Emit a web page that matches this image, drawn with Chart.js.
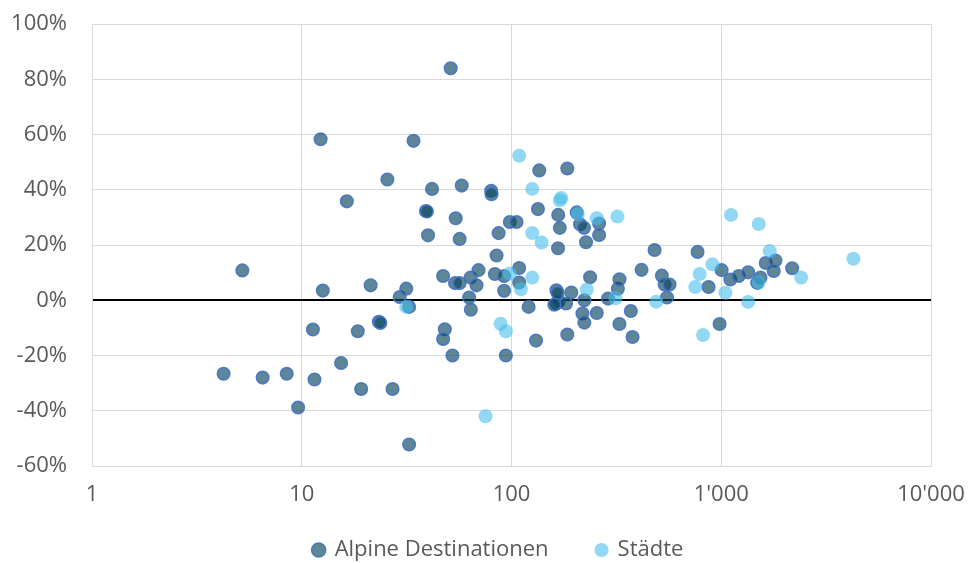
<!DOCTYPE html>
<html>
<head>
<meta charset="utf-8">
<script src="https://cdn.jsdelivr.net/npm/chart.js@4.4.0/dist/chart.umd.min.js"></script>
<style>
  html, body { margin: 0; padding: 0; background: #fff; }
  #wrap { width: 970px; height: 563px; }
</style>
</head>
<body>
<div id="wrap"><canvas id="chart"></canvas></div>
<script>
const seriesNames = ["Alpine Destinationen", "Städte"];
const xTicks = [1, 10, 100, 1000, 10000];

// Alpine Destinationen (x = log scale, y = change in %)
const alpineX = [
	4.24, 5.21, 6.51, 8.48, 9.61, 11.3, 11.5, 12.3, 12.6, 15.4,
	16.4, 18.5, 19.2, 21.3, 23.3, 23.7, 25.6, 27.1, 29.3, 31.5,
	32.5, 34.1, 32.5, 39.1, 39.5, 40.0, 41.8, 47.2, 48.1, 47.2,
	51.3, 52.3, 54.2, 53.8, 56.6, 56.6, 57.9, 62.8, 64.0, 63.8,
	68.1, 69.6, 80.0, 80.3, 83.3, 84.9, 86.8, 92.2, 92.2, 94.0,
	98.2, 105.7, 108.8, 108.8, 120.7, 130.9, 135.6, 133.7, 163.7, 163.7,
	168, 182, 167, 170, 166.7, 184.5, 184.5, 192.8, 204.6, 212.2,
	221.8, 217.8, 222.5, 222.5, 226.7, 237, 255, 261.6, 261.6, 288.8,
	321.5, 327.1, 327, 370.7, 377.6, 416.9, 481, 521, 537, 567,
	551, 771, 870, 982, 1004, 1105, 1211, 1343, 1538, 1483,
	1630, 1813, 1779, 2178, 166, 160
];
const alpineY = [
	-26.6, 10.8, -28.0, -26.6, -38.8, -10.6, -28.7, 58.3, 3.5, -22.7,
	35.8, -11.2, -32.1, 5.4, -7.8, -8.2, 43.7, -32.1, 1.2, 4.2,
	-2.4, 57.7, -52.2, 32.3, 32.1, 23.5, 40.3, 8.8, -10.5, -14.0,
	84, -20, 29.7, 6.2, 6.2, 22.2, 41.5, 1.0, -3.4, 8.2,
	5.4, 10.9, 39.6, 38.4, 9.5, 16.2, 24.3, 3.4, 8.8, -20,
	28.3, 28.3, 11.7, 6.4, -2.4, -14.6, 47.0, 33.0, 3.6, -1.2,
	-0.4, -1.2, 30.9, 26.2, 18.8, 47.7, -12.4, 2.8, 31.8, 27.5,
	26.2, -4.8, -8.1, 0, 21.0, 8.3, -4.6, 27.8, 23.6, 0.6,
	4.2, 7.6, -8.6, -3.9, -13.3, 11.0, 18.2, 8.9, 5.7, 5.7,
	1.0, 17.5, 4.8, -8.6, 10.9, 7.5, 8.8, 10.1, 8.2, 6.3,
	13.5, 14.4, 10.6, 11.6, 2.6, -1.6
];

// Städte
const staedteX = [
	31.5, 75.2, 88.7, 94.0, 98.2, 110.9, 108.8, 125.6, 125.6, 125.6,
	139.2, 172.8, 170, 207, 228.5, 255, 320, 313, 490, 752,
	789, 819, 907, 1046, 1114, 1343, 1509, 1509, 1703, 2405,
	4266
];
const staedteY = [
	-2.4, -42, -8.5, -11.2, 9.7, 4.0, 52.3, 40.3, 24.3, 8.2,
	20.9, 37, 36.2, 31.2, 3.9, 29.7, 30.3, 0.7, -0.5, 4.8,
	9.5, -12.6, 13.0, 2.7, 30.9, -0.6, 27.6, 6.3, 17.8, 8.2,
	15.0
];

function ToPoints(xs, ys)
{
	return xs.map((x, i) => ({ x: x, y: ys[i] }));
}

function FormatThousands(value)
{
	return String(value).replace(/\B(?=(\d{3})+(?!\d))/g, "'");
}

// legend sits a bit right of centre and closer to the axis labels than Chart.js puts it
const legendNudge =
{
	id: "legendNudge",
	afterLayout(chart)
	{
		const legend = chart.legend;
		legend.left += 33;
		legend.right += 33;
		legend.top -= 20;
		legend.bottom -= 20;
	}
};

Chart.defaults.font.family = "'Open Sans', sans-serif";
Chart.defaults.color = "#595959";

const config =
{
	type: "scatter",
	data:
	{
		datasets:
		[
			{
				label: seriesNames[0],
				data: ToPoints(alpineX, alpineY),
				backgroundColor: "rgba(10, 72, 96, 0.66)",
				borderColor: "rgba(68, 114, 196, 0.9)",
				borderWidth: 1.5,
				pointRadius: 6.3,
				order: 2
			},
			{
				label: seriesNames[1],
				data: ToPoints(staedteX, staedteY),
				backgroundColor: "rgba(70, 190, 235, 0.6)",
				borderColor: "rgba(70, 190, 235, 0)",
				borderWidth: 0,
				pointRadius: 7,
				order: 1
			}
		]
	},
	options:
	{
		responsive: true,
		maintainAspectRatio: false,
		animation: false,
		events: [],
		layout: { padding: { left: 0, right: 39, top: 24, bottom: -28 } },
		scales:
		{
			x:
			{
				type: "logarithmic",
				min: 1,
				max: 10000,
				afterBuildTicks: scale => { scale.ticks = xTicks.map(v => ({ value: v })); },
				afterFit: scale => { scale.height = 45; scale.paddingLeft = 0; scale.paddingRight = 0; },
				ticks: { callback: v => FormatThousands(v), font: { size: 22 }, padding: 16, maxRotation: 0, autoSkip: false },
				grid: { color: "#d9d9d9", drawTicks: false },
				border: { color: "#d9d9d9" }
			},
			y:
			{
				min: -60,
				max: 100,
				afterFit: scale => { scale.width = 92; scale.paddingTop = 0; scale.paddingBottom = 0; },
				ticks: { stepSize: 20, callback: v => v + "%", font: { size: 22 }, padding: 25 },
				grid:
				{
					color: ctx => (ctx.tick && ctx.tick.value === 0) ? "#000000" : "#d9d9d9",
					lineWidth: ctx => (ctx.tick && ctx.tick.value === 0) ? 2 : 1,
					drawTicks: false
				},
				border: { color: "#d9d9d9" }
			}
		},
		plugins:
		{
			legend:
			{
				position: "bottom",
				labels:
				{
					usePointStyle: true,
					pointStyle: "circle",
					boxWidth: 10,
					boxHeight: 10,
					padding: 48,
					font: { size: 22 },
					sort: (a, b) => a.datasetIndex - b.datasetIndex
				}
			},
			tooltip: { enabled: false }
		}
	},
	plugins: [legendNudge]
};

new Chart(document.getElementById("chart"), config);
</script>
</body>
</html>
